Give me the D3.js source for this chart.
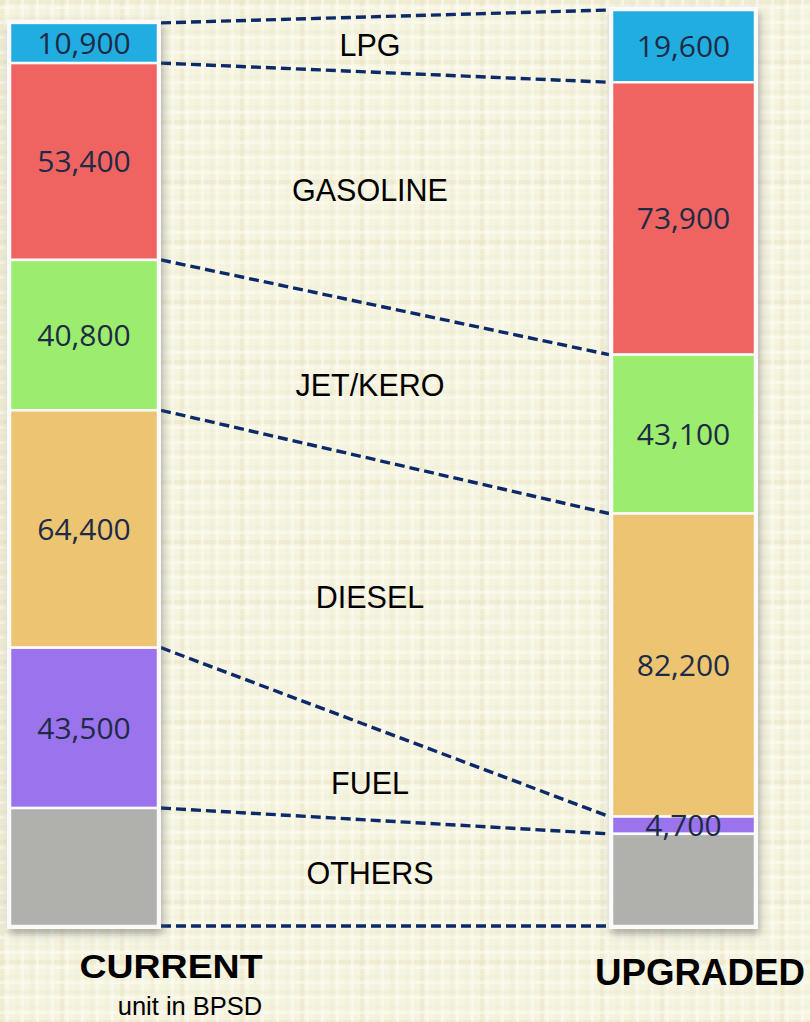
<!DOCTYPE html>
<html><head><meta charset="utf-8">
<script src="https://cdn.jsdelivr.net/npm/d3@7"></script>
<style>body{margin:0;background:#f6f4e1;}svg{display:block;}</style>
</head><body>
<svg id="chart" width="810" height="1022"></svg>
<script>
const categories = ["LPG","GASOLINE","JET/KERO","DIESEL","FUEL","OTHERS"];
const currentValues = [10900, 53400, 40800, 64400, 43500, 32000];
const upgradedValues = [19600, 73900, 43100, 82200, 4700, 25000];
const currentLabels = ["10,900","53,400","40,800","64,400","43,500",""];
const upgradedLabels = ["19,600","73,900","43,100","82,200","4,700",""];
const colors = ["#21ade0","#ef6361","#9cec6d","#edc472","#9b73ec","#b0b0ad"];
const barTitles = ["CURRENT","UPGRADED"];
const unitText = "unit in BPSD";

const svg = d3.select("#chart");
const W = 810, H = 1022;
const defs = svg.append("defs");

// background plaid
const pat = defs.append("pattern").attr("id","bg").attr("width",60).attr("height",60).attr("patternUnits","userSpaceOnUse");
pat.append("rect").attr("width",60).attr("height",60).attr("fill","#f6f4e1");
[0,15,30,45].forEach((p,i)=>{
  const op = i===0?0.4:(i===2?0.25:0.14);
  pat.append("rect").attr("x",p).attr("y",0).attr("width",4).attr("height",60).attr("fill","#e6e2c0").attr("opacity",op);
  pat.append("rect").attr("x",0).attr("y",p).attr("width",60).attr("height",4).attr("fill","#e6e2c0").attr("opacity",op);
  pat.append("rect").attr("x",p+6).attr("y",0).attr("width",3).attr("height",60).attr("fill","#fcfbf2").attr("opacity",0.5);
  pat.append("rect").attr("x",0).attr("y",p+6).attr("width",60).attr("height",3).attr("fill","#fcfbf2").attr("opacity",0.5);
});
svg.append("rect").attr("width",W).attr("height",H).attr("fill","url(#bg)");

const f = defs.append("filter").attr("id","shadow").attr("x","-20%").attr("y","-5%").attr("width","140%").attr("height","110%");
f.append("feDropShadow").attr("dx",2).attr("dy",5).attr("stdDeviation",4).attr("flood-color","#555").attr("flood-opacity",0.45);

const maxTotal = d3.max([d3.sum(currentValues), d3.sum(upgradedValues)]);
const y = d3.scaleLinear().domain([0, maxTotal]).range([926, 10]);
const x = d3.scaleOrdinal().domain(barTitles).range([10, 612]);
const barW = d3.scaleOrdinal().domain(barTitles).range([148, 143]);

function stackOf(vals){
  let acc = 0;
  const total = d3.sum(vals);
  return vals.map((v,i)=>{ const top = total - acc; acc += v; return {i, v, y0: y(top), y1: y(top - v)}; });
}
const stacks = [stackOf(currentValues), stackOf(upgradedValues)];
const labelsArr = [currentLabels, upgradedLabels];

// connectors
const lineG = svg.append("g");
for(let k=0;k<=categories.length;k++){
  const yl = k<categories.length ? stacks[0][k].y0 : stacks[0][k-1].y1;
  const yr = k<categories.length ? stacks[1][k].y0 : stacks[1][k-1].y1;
  lineG.append("line").attr("x1", x("CURRENT")+barW("CURRENT")+3).attr("y1", yl)
    .attr("x2", x("UPGRADED")-3).attr("y2", yr)
    .attr("stroke","#0c2a6a").attr("stroke-width",3.4).attr("stroke-dasharray","10,5");
}

barTitles.forEach((t,b)=>{
  const st = stacks[b];
  const g = svg.append("g");
  const x0 = x(t), w = barW(t);
  g.append("rect").attr("x",x0-3).attr("y",st[0].y0-3).attr("width",w+6)
    .attr("height",st[st.length-1].y1 - st[0].y0 + 6).attr("fill","#fafafa").attr("filter","url(#shadow)");
  g.selectAll("rect.seg").data(st).join("rect").attr("class","seg")
    .attr("x",x0).attr("y",d=>d.y0).attr("width",w).attr("height",d=>d.y1-d.y0)
    .attr("fill",d=>colors[d.i]).attr("stroke","#fafafa").attr("stroke-width",2.5);
  g.selectAll("text.val").data(st.filter(d=>labelsArr[b][d.i])).join("text").attr("class","val")
    .attr("x",x0+w/2).attr("y",d=>(d.y0+d.y1)/2).attr("dy","0.36em")
    .attr("text-anchor","middle").attr("font-family","'Open Sans', sans-serif").attr("font-size",30)
    .attr("fill","#1e2b46").text(d=>labelsArr[b][d.i]);
});

// category labels
svg.append("g").selectAll("text").data(categories).join("text")
  .attr("x",370).attr("y",(d,i)=>((stacks[0][i].y0+stacks[0][i].y1)/2 + (stacks[1][i].y0+stacks[1][i].y1)/2)/2 + (i===4?6:0))
  .attr("dy","0.36em").attr("text-anchor","middle")
  .attr("font-family","'Liberation Sans', Arial, sans-serif").attr("font-size",30.5).attr("fill","#000")
  .text(d=>d);

svg.append("text").attr("x",171).attr("y",978).attr("text-anchor","middle")
  .attr("font-family","'Liberation Sans', Arial, sans-serif").attr("font-weight","bold").attr("font-size",33)
  .attr("textLength",183).attr("lengthAdjust","spacingAndGlyphs").text(barTitles[0]);
svg.append("text").attr("x",700).attr("y",985).attr("text-anchor","middle")
  .attr("font-family","'Liberation Sans', Arial, sans-serif").attr("font-weight","bold").attr("font-size",36)
  .attr("textLength",210).attr("lengthAdjust","spacingAndGlyphs").text(barTitles[1]);
svg.append("text").attr("x",190).attr("y",1015).attr("text-anchor","middle")
  .attr("font-family","'Liberation Sans', Arial, sans-serif").attr("font-size",25.5).text(unitText);
</script>
</body></html>
